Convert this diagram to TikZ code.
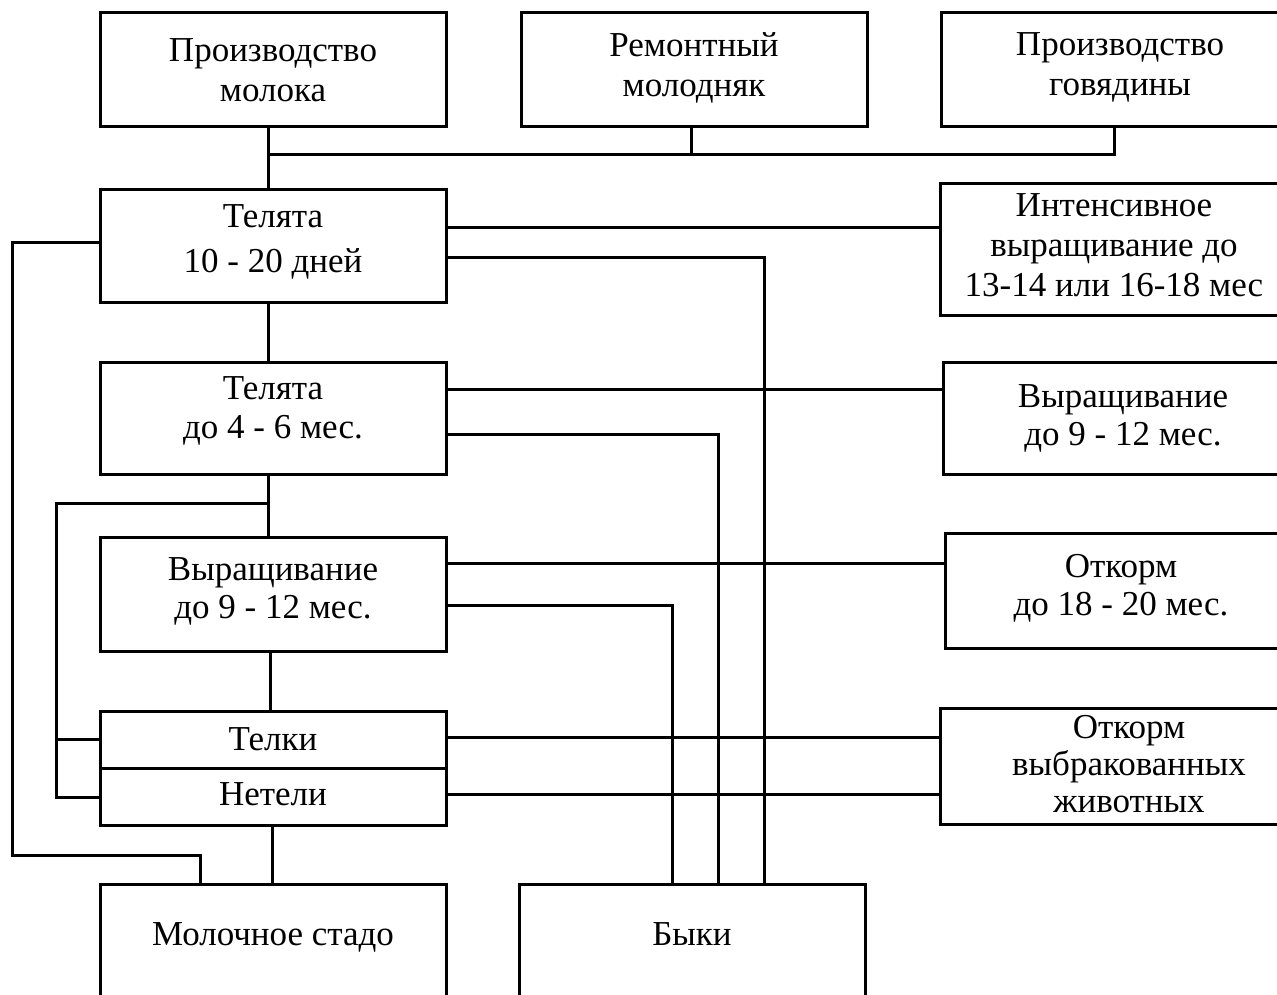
\documentclass[tikz,border=0pt]{standalone}
\usepackage{fontspec}
\setmainfont{Liberation Serif}
% centred lines of a box; the optional argument scales the line distance
\newcommand\boxtext[2][1]{{\renewcommand\arraystretch{#1}\begin{tabular}[t]{@{}c@{}}#2\end{tabular}}}
\begin{document}
\begin{tikzpicture}[x=1pt,y=-1pt,
  box/.style={draw, line width=3pt, inner sep=0pt, outer sep=0pt,
    anchor=north west, font=\fontsize{35}{40}\selectfont},
  link/.style={line width=3pt}]
\useasboundingbox (0,0) rectangle (1277,995);
\fill[white] (0,0) rectangle (1277,995);
\clip (0,0) rectangle (1277,995);

% top row
\node[box, minimum width=346, text height=49, text depth=65] (milk) at (100,13)
  {\boxtext{Производство\\молока}};
\node[box, minimum width=346, text height=44, text depth=70] (repair) at (521,13)
  {\boxtext{Ремонтный\\молодняк}};
\node[box, minimum width=358, text height=43, text depth=71] (beef) at (941,13)
  {\boxtext{Производство\\говядины}};

% rearing stages
\node[box, minimum width=346, text height=38, text depth=74] (calf1) at (100,190)
  {\boxtext[1.125]{Телята\\10 - 20 дней}};
\node[box, minimum width=346, text height=37, text depth=75] (calf2) at (100,362)
  {\boxtext[0.975]{Телята\\до 4 - 6 мес.}};
\node[box, minimum width=346, text height=43, text depth=71] (grow) at (100,537)
  {\boxtext[0.95]{Выращивание\\до 9 - 12 мес.}};
\node[box, minimum width=346, text height=39, text depth=18] (telki) at (100,711)
  {Телки};
\node[box, minimum width=346, text height=37, text depth=20] (neteli) at (100,768)
  {Нетели};
\node[box, minimum width=346, text height=61, text depth=146] (dairy) at (100,884)
  {Молочное стадо};
\node[box, minimum width=346, text height=61, text depth=146] (bulls) at (519,884)
  {Быки};

% beef branch
\node[box, minimum width=348, text height=33, text depth=98] (intensive) at (940,184)
  {\boxtext{Интенсивное\\выращивание до\\13-14 или 16-18 мес}};
\node[box, minimum width=360, text height=45, text depth=67] (grow9r) at (943,362)
  {\boxtext[0.95]{Выращивание\\до 9 - 12 мес.}};
\node[box, minimum width=352, text height=44, text depth=71] (fatten) at (945,533)
  {\boxtext[0.95]{Откорм\\до 18 - 20 мес.}};
\node[box, minimum width=378, text height=30, text depth=86] (cull) at (940,708)
  {\boxtext[0.925]{Откорм\\выбракованных\\животных}};

% junction points
\coordinate (bus) at (268,155);
\coordinate (br) at (268,503);
\coordinate (lb) at (56,797);
\coordinate (lt) at (12,855);

% connectors
\draw[link] ([xshift=-5]milk.south) -- ([xshift=-5]calf1.north);
\draw[link] (bus) -| ([xshift=-6]beef.south);
\draw[link] ([xshift=-3]repair.south) -- ([xshift=-3]repair.south |- bus);
\draw[link] ([yshift=18]calf1.east) -- ([yshift=18]calf1.east -| intensive.west);
\draw[link] ([yshift=-11]calf1.east) -| ([xshift=72]bulls.north);
\draw[link] ([yshift=3]calf1.west) -| (lt) -| ([xshift=-73]dairy.north);
\draw[link] ([xshift=-5]calf1.south) -- ([xshift=-5]calf2.north);
\draw[link] ([yshift=29]calf2.east) -- ([yshift=29]calf2.east -| grow9r.west);
\draw[link] ([yshift=-16]calf2.east) -| ([xshift=26]bulls.north);
\draw[link] ([xshift=-5]calf2.south) -- ([xshift=-5]grow.north);
\draw[link] (br) -| (lb) -- (lb -| neteli.west);
\draw[link] (lb |- telki.west) -- (telki.west);
\draw[link] ([yshift=31]grow.east) -- ([yshift=31]grow.east -| fatten.west);
\draw[link] ([yshift=-11]grow.east) -| ([xshift=-20]bulls.north);
\draw[link] ([xshift=-3]grow.south) -- ([xshift=-3]telki.north);
\draw[link] ([yshift=2.5]telki.east) -- ([yshift=2.5]telki.east -| cull.west);
\draw[link] ([yshift=2.5]neteli.east) -- ([yshift=2.5]neteli.east -| cull.west);
\draw[link] ([xshift=-1]neteli.south) -- ([xshift=-1]dairy.north);
\end{tikzpicture}
\end{document}
